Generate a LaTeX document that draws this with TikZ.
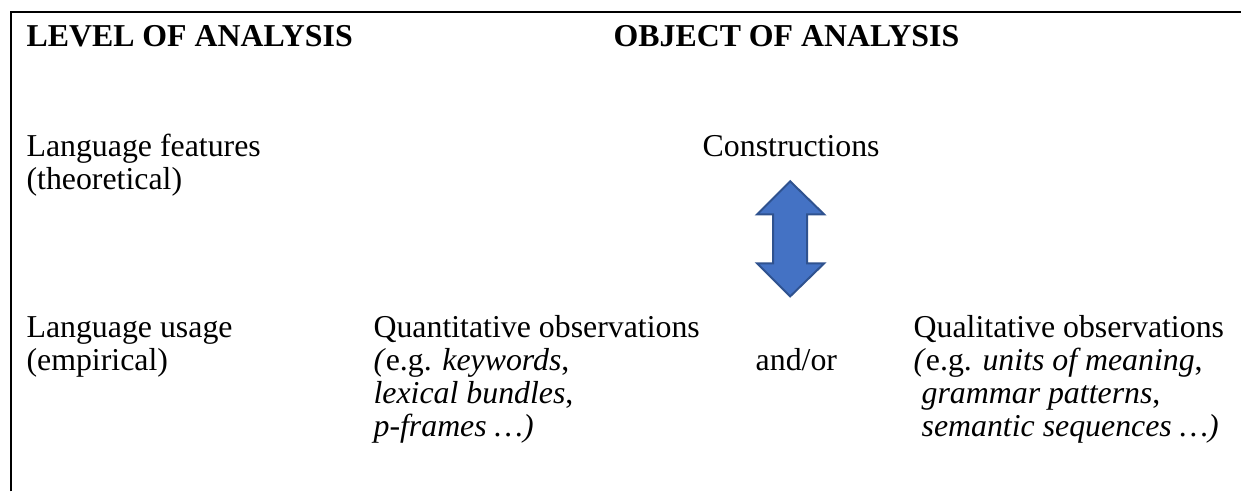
\documentclass[tikz,border=0pt]{standalone}
\usepackage{fontspec}
\setmainfont{Liberation Serif}
\usepackage{tikz}
\definecolor{arrowblue}{HTML}{4472C4}
\definecolor{arrowedge}{HTML}{2F528F}
\tikzset{
  frame/.style={line width=0.8pt},
  heading/.style={font=\fontsize{12pt}{12.4pt}\selectfont\bfseries, anchor=base west, inner sep=0pt},
  cell/.style={font=\fontsize{12pt}{12.4pt}\selectfont, align=left, anchor=base west, inner sep=0pt},
  dblarrow/.style={fill=arrowblue, draw=arrowedge, line width=0.75pt, line join=miter},
}
\begin{document}
\begin{tikzpicture}
  \useasboundingbox (0,0) rectangle (16.44,6.51);
  % open frame: left and top rules
  \coordinate (fbot) at (0.146,0);
  \coordinate (fcorner) at (0.146,6.347);
  \coordinate (fright) at (16.44,6.347);
  \draw[frame] (fbot) -- (fcorner) -- (fright);
  % column headings
  \node[heading] (level) at (0.345,5.896) {LEVEL OF ANALYSIS};
  \node[heading] (object) at (8.122,5.896) {OBJECT OF ANALYSIS};
  % theoretical row (base = last line)
  \node[cell] (features) at (0.345,4.003) {Language features\\(theoretical)};
  \node[cell] (constr) at (9.302,4.439) {Constructions};
  % two-headed block arrow
  \draw[dblarrow] (10.468,4.108) -- (10.918,3.670) -- (10.693,3.670)
    -- (10.693,3.021) -- (10.918,3.021) -- (10.468,2.584)
    -- (10.030,3.021) -- (10.242,3.021) -- (10.242,3.670)
    -- (10.030,3.670) -- cycle;
  % empirical row (base = last line)
  \node[cell] (usage) at (0.345,1.605) {Language usage\\(empirical)};
  \node[cell] (quant) at (4.942,0.733) {Quantitative observations\\
    \textit{(}e.g. \textit{keywords},\\ \textit{lexical bundles},\\
    \textit{p-frames …)}};
  \node[cell] (andor) at (10.004,1.603) {and/or};
  \node[cell] (qual) at (12.097,0.733) {Qualitative observations\\
    \textit{(}e.g. \textit{units of meaning},\\
    \textit{~grammar patterns},\\ \textit{~semantic sequences …)}};
\end{tikzpicture}
\end{document}
